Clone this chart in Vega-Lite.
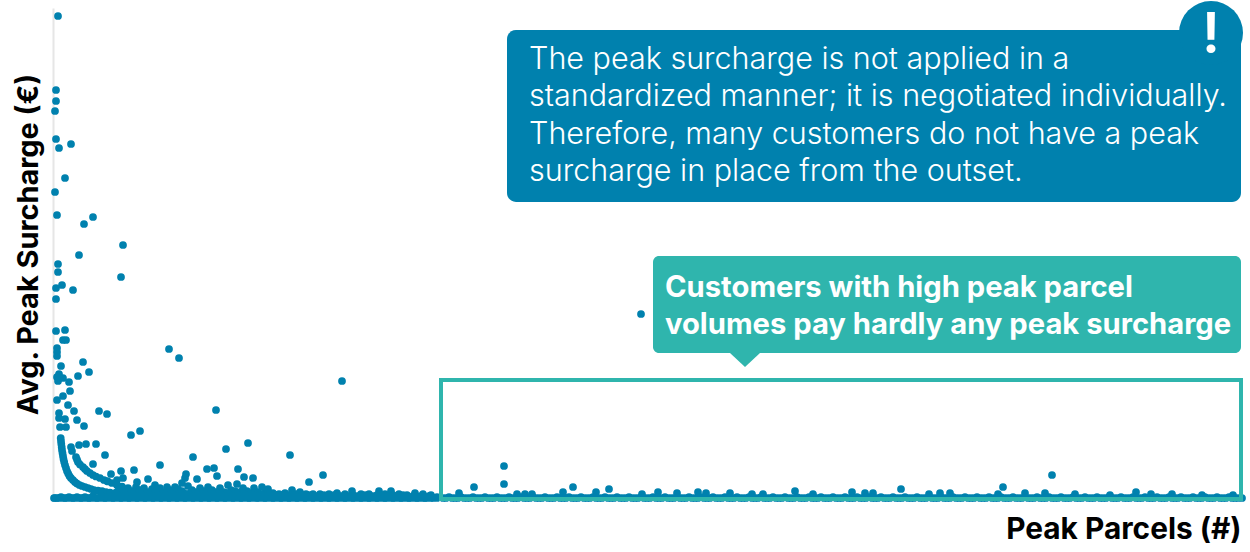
{
  "$schema": "https://vega.github.io/schema/vega-lite/v6.json",
  "width": 1190,
  "height": 490,
  "autosize": "none",
  "padding": {"left": 53, "top": 8, "right": 7, "bottom": 54},
  "background": "white",
  "config": {"view": {"stroke": null}, "font": "Inter"},
  "encoding": {
    "x": {"field": "parcels", "type": "quantitative", "scale": {"domain": [0, 1190], "nice": false, "zero": false}, "axis": {"title": "Peak Parcels (#)", "domain": false, "ticks": false, "labels": false, "grid": false, "titleFont": "Inter", "titleFontSize": 29.8, "titleFontWeight": 700, "titleColor": "#000000", "titleAlign": "right", "titleBaseline": "middle", "titleX": 1188, "titleY": 31}},
    "y": {"field": "surcharge", "type": "quantitative", "scale": {"domain": [0, 49], "nice": false, "zero": false}, "axis": {"title": "Avg. Peak Surcharge (€)", "domain": true, "domainColor": "#e6e6e6", "domainWidth": 2, "ticks": false, "labels": false, "grid": false, "titleFont": "Inter", "titleFontSize": 28.9, "titleFontWeight": 700, "titleColor": "#000000", "titleAngle": -90, "titleAlign": "center", "titleBaseline": "middle", "titleX": -25, "titleY": 236}}
  },
  "layer": [
    {
      "data": {"values": [
        {"parcels":5,"surcharge":48.2},{"parcels":3,"surcharge":40.8},{"parcels":3,"surcharge":39.7},{"parcels":2,"surcharge":38.7},{"parcels":3,"surcharge":35.9},{"parcels":6,"surcharge":35.0},{"parcels":18,"surcharge":35.4},{"parcels":12,"surcharge":32.0},{"parcels":2,"surcharge":30.6},{"parcels":4,"surcharge":28.3},{"parcels":40,"surcharge":28.1},{"parcels":31,"surcharge":27.4},{"parcels":70,"surcharge":25.3},{"parcels":26,"surcharge":24.3},{"parcels":5,"surcharge":23.4},{"parcels":5,"surcharge":22.6},{"parcels":68,"surcharge":22.1},{"parcels":3,"surcharge":21.0},{"parcels":9,"surcharge":21.3},{"parcels":20,"surcharge":20.8},{"parcels":3,"surcharge":19.9},{"parcels":3,"surcharge":16.7},{"parcels":12,"surcharge":16.8},{"parcels":10,"surcharge":15.8},{"parcels":13,"surcharge":15.8},{"parcels":4,"surcharge":15.0},{"parcels":4,"surcharge":14.6},{"parcels":4,"surcharge":14.2},{"parcels":116,"surcharge":14.9},{"parcels":126,"surcharge":14.0},{"parcels":30,"surcharge":13.6},{"parcels":8,"surcharge":13.2},{"parcels":36,"surcharge":12.6},{"parcels":25,"surcharge":12.2},{"parcels":6,"surcharge":12.4},{"parcels":4,"surcharge":12.1},{"parcels":5,"surcharge":11.7},{"parcels":10,"surcharge":12.0},{"parcels":16,"surcharge":11.6},{"parcels":17,"surcharge":10.7},{"parcels":10,"surcharge":10.2},{"parcels":4,"surcharge":9.8},{"parcels":15,"surcharge":9.3},{"parcels":21,"surcharge":8.7},{"parcels":163,"surcharge":8.8},{"parcels":46,"surcharge":8.7},{"parcels":54,"surcharge":8.4},{"parcels":6,"surcharge":8.5},{"parcels":6,"surcharge":8.0},{"parcels":12,"surcharge":7.9},{"parcels":24,"surcharge":7.8},{"parcels":7,"surcharge":7.1},{"parcels":13,"surcharge":7.1},{"parcels":31,"surcharge":7.2},{"parcels":78,"surcharge":6.3},{"parcels":87,"surcharge":6.7},{"parcels":18,"surcharge":5.1},{"parcels":19,"surcharge":4.7},{"parcels":26,"surcharge":5.3},{"parcels":33,"surcharge":5.4},{"parcels":43,"surcharge":5.4},{"parcels":52,"surcharge":4.3},{"parcels":40,"surcharge":3.4},{"parcels":140,"surcharge":4.1},{"parcels":173,"surcharge":4.9},{"parcels":107,"surcharge":3.3},{"parcels":81,"surcharge":2.8},{"parcels":154,"surcharge":2.9},{"parcels":161,"surcharge":3.0},{"parcels":58,"surcharge":2.4},{"parcels":68,"surcharge":2.7},{"parcels":133,"surcharge":2.4},{"parcels":164,"surcharge":2.2},{"parcels":144,"surcharge":1.9},{"parcels":95,"surcharge":1.9},{"parcels":175,"surcharge":1.3},{"parcels":70,"surcharge":2.0},{"parcels":84,"surcharge":1.6},{"parcels":132,"surcharge":2.0},{"parcels":54,"surcharge":1.7},{"parcels":129,"surcharge":1.5},{"parcels":102,"surcharge":1.3},{"parcels":155,"surcharge":1.1},{"parcels":122,"surcharge":1.1},{"parcels":114,"surcharge":1.1},{"parcels":64,"surcharge":1.8},{"parcels":289,"surcharge":11.7},{"parcels":195,"surcharge":5.5},{"parcels":237,"surcharge":4.3},{"parcels":185,"surcharge":2.9},{"parcels":191,"surcharge":2.1},{"parcels":200,"surcharge":2.0},{"parcels":256,"surcharge":1.6},{"parcels":270,"surcharge":2.3},{"parcels":184,"surcharge":1.4},{"parcels":190,"surcharge":1.0},{"parcels":201,"surcharge":1.0},{"parcels":209,"surcharge":1.1},{"parcels":215,"surcharge":0.9},{"parcels":239,"surcharge":0.8},{"parcels":247,"surcharge":0.6},{"parcels":284,"surcharge":0.5},{"parcels":299,"surcharge":0.7},{"parcels":326,"surcharge":0.7},{"parcels":338,"surcharge":0.7},{"parcels":362,"surcharge":0.5},{"parcels":406,"surcharge":0.5},{"parcels":421,"surcharge":1.1},{"parcels":451,"surcharge":1.4},{"parcels":451,"surcharge":3.2},{"parcels":464,"surcharge":0.4},{"parcels":472,"surcharge":0.4},{"parcels":479,"surcharge":0.4},{"parcels":588,"surcharge":18.4},{"parcels":520,"surcharge":1.1},{"parcels":510,"surcharge":0.6},{"parcels":543,"surcharge":0.6},{"parcels":556,"surcharge":0.9},{"parcels":605,"surcharge":0.6},{"parcels":589,"surcharge":0.4},{"parcels":624,"surcharge":0.5},{"parcels":645,"surcharge":0.6},{"parcels":653,"surcharge":0.5},{"parcels":677,"surcharge":0.5},{"parcels":699,"surcharge":0.4},{"parcels":710,"surcharge":0.4},{"parcels":742,"surcharge":0.7},{"parcels":760,"surcharge":0.4},{"parcels":799,"surcharge":0.6},{"parcels":812,"surcharge":0.5},{"parcels":820,"surcharge":0.5},{"parcels":848,"surcharge":0.9},{"parcels":876,"surcharge":0.4},{"parcels":887,"surcharge":0.5},{"parcels":897,"surcharge":0.5},{"parcels":950,"surcharge":1.1},{"parcels":999,"surcharge":2.3},{"parcels":945,"surcharge":0.4},{"parcels":972,"surcharge":0.5},{"parcels":992,"surcharge":0.5},{"parcels":1022,"surcharge":0.4},{"parcels":1057,"surcharge":0.3},{"parcels":1083,"surcharge":0.6},{"parcels":1098,"surcharge":0.4},{"parcels":1119,"surcharge":0.4},{"parcels":1149,"surcharge":0.3},{"parcels":1180,"surcharge":0.3},
        {"parcels":7.7,"surcharge":6.0},{"parcels":8,"surcharge":5.7},{"parcels":8.3,"surcharge":5.4},{"parcels":8.7,"surcharge":5.1},{"parcels":9,"surcharge":4.8},{"parcels":9.5,"surcharge":4.5},{"parcels":10,"surcharge":4.2},{"parcels":10.5,"surcharge":3.9},{"parcels":11.2,"surcharge":3.6},{"parcels":12,"surcharge":3.3},{"parcels":13,"surcharge":3.0},{"parcels":14,"surcharge":2.7},{"parcels":15.2,"surcharge":2.45},{"parcels":16.5,"surcharge":2.2},{"parcels":18,"surcharge":2.0},{"parcels":20,"surcharge":1.8},{"parcels":22,"surcharge":1.6},{"parcels":24,"surcharge":1.45},{"parcels":26.5,"surcharge":1.3},{"parcels":29,"surcharge":1.2},{"parcels":32,"surcharge":1.1},{"parcels":35,"surcharge":1.0},{"parcels":38,"surcharge":0.9},{"parcels":41,"surcharge":0.8},{"parcels":45,"surcharge":0.75},{"parcels":49,"surcharge":0.7},{"parcels":53,"surcharge":0.6},{"parcels":57,"surcharge":0.55},{"parcels":62,"surcharge":0.5},
        {"parcels":23,"surcharge":4.1},{"parcels":24,"surcharge":3.85},{"parcels":25,"surcharge":3.6},{"parcels":27,"surcharge":3.35},{"parcels":30,"surcharge":3.1},{"parcels":32,"surcharge":2.9},{"parcels":34,"surcharge":2.7},{"parcels":37,"surcharge":2.5},{"parcels":40,"surcharge":2.3},{"parcels":43,"surcharge":2.15},{"parcels":47,"surcharge":2.0},{"parcels":51,"surcharge":1.8},{"parcels":55,"surcharge":1.65},{"parcels":59,"surcharge":1.5},{"parcels":64,"surcharge":1.3},{"parcels":69,"surcharge":1.15},
        {"parcels":66,"surcharge":0.9},{"parcels":71,"surcharge":0.8},{"parcels":75,"surcharge":1.0},{"parcels":79,"surcharge":0.7},{"parcels":83,"surcharge":1.1},{"parcels":87,"surcharge":0.8},{"parcels":91,"surcharge":1.0},{"parcels":95,"surcharge":0.6},{"parcels":99,"surcharge":0.9},{"parcels":103,"surcharge":0.7},{"parcels":107,"surcharge":1.0},{"parcels":111,"surcharge":0.6},{"parcels":117,"surcharge":0.8},{"parcels":121,"surcharge":0.6},{"parcels":125,"surcharge":0.9},{"parcels":129,"surcharge":0.7},{"parcels":135,"surcharge":1.2},{"parcels":139,"surcharge":0.8},{"parcels":143,"surcharge":0.6},{"parcels":147,"surcharge":1.0},{"parcels":151,"surcharge":0.7},{"parcels":159,"surcharge":0.8},{"parcels":163,"surcharge":0.6},{"parcels":167,"surcharge":1.0},{"parcels":171,"surcharge":0.6},{"parcels":178,"surcharge":0.8},{"parcels":182,"surcharge":0.7},{"parcels":187,"surcharge":0.6},{"parcels":194,"surcharge":0.7},{"parcels":198,"surcharge":0.5},{"parcels":205,"surcharge":0.6},{"parcels":212,"surcharge":0.5},{"parcels":220,"surcharge":0.5},{"parcels":226,"surcharge":0.4},{"parcels":232,"surcharge":0.5},{"parcels":243,"surcharge":0.4},{"parcels":253,"surcharge":0.4},{"parcels":260,"surcharge":0.4},{"parcels":267,"surcharge":0.4},{"parcels":276,"surcharge":0.4},{"parcels":292,"surcharge":0.4},{"parcels":308,"surcharge":0.4},{"parcels":316,"surcharge":0.4},{"parcels":332,"surcharge":0.4},{"parcels":346,"surcharge":0.4},{"parcels":354,"surcharge":0.3},{"parcels":370,"surcharge":0.4},{"parcels":378,"surcharge":0.3},
        {"parcels":64,"surcharge":0.6},{"parcels":68,"surcharge":0.5},{"parcels":73,"surcharge":0.6},{"parcels":77,"surcharge":0.5},{"parcels":81,"surcharge":0.6},{"parcels":85,"surcharge":0.5},{"parcels":89,"surcharge":0.6},{"parcels":93,"surcharge":0.5},{"parcels":97,"surcharge":0.5},{"parcels":101,"surcharge":0.5},{"parcels":105,"surcharge":0.6},{"parcels":109,"surcharge":0.5},{"parcels":113,"surcharge":0.5},{"parcels":119,"surcharge":0.5},{"parcels":123,"surcharge":0.5},{"parcels":127,"surcharge":0.5},{"parcels":131,"surcharge":0.5},{"parcels":137,"surcharge":0.5},{"parcels":141,"surcharge":0.5},{"parcels":145,"surcharge":0.5},{"parcels":149,"surcharge":0.5},{"parcels":153,"surcharge":0.5},{"parcels":157,"surcharge":0.5},{"parcels":161,"surcharge":0.5},{"parcels":165,"surcharge":0.5},{"parcels":169,"surcharge":0.5},{"parcels":174,"surcharge":0.5},{"parcels":180,"surcharge":0.5},{"parcels":184,"surcharge":0.5},{"parcels":190,"surcharge":0.4},{"parcels":196,"surcharge":0.4},{"parcels":201,"surcharge":0.4},{"parcels":208,"surcharge":0.4},{"parcels":216,"surcharge":0.4},{"parcels":223,"surcharge":0.3},{"parcels":229,"surcharge":0.3},{"parcels":236,"surcharge":0.3},{"parcels":248,"surcharge":0.3},{"parcels":256,"surcharge":0.3},{"parcels":271,"surcharge":0.3},{"parcels":281,"surcharge":0.3},{"parcels":300,"surcharge":0.3},{"parcels":312,"surcharge":0.3},{"parcels":324,"surcharge":0.3},{"parcels":340,"surcharge":0.3},{"parcels":350,"surcharge":0.3},{"parcels":362,"surcharge":0.3},
        {"parcels":1,"surcharge":0},{"parcels":4,"surcharge":0},{"parcels":8,"surcharge":0.1},{"parcels":12,"surcharge":0},{"parcels":16,"surcharge":0.1},{"parcels":20,"surcharge":0},{"parcels":24,"surcharge":0.1},{"parcels":28,"surcharge":0},{"parcels":32,"surcharge":0.1},{"parcels":36,"surcharge":0},{"parcels":40,"surcharge":0.2},{"parcels":44,"surcharge":0},{"parcels":48,"surcharge":0.2},{"parcels":52,"surcharge":0},{"parcels":56,"surcharge":0.2},{"parcels":60,"surcharge":0},{"parcels":64,"surcharge":0.3},{"parcels":68,"surcharge":0},{"parcels":72,"surcharge":0.3},{"parcels":76,"surcharge":0},{"parcels":80,"surcharge":0.3},{"parcels":84,"surcharge":0},{"parcels":88,"surcharge":0.3},{"parcels":92,"surcharge":0},{"parcels":96,"surcharge":0.3},{"parcels":100,"surcharge":0},{"parcels":104,"surcharge":0.3},{"parcels":108,"surcharge":0},{"parcels":112,"surcharge":0.3},{"parcels":116,"surcharge":0},{"parcels":120,"surcharge":0.3},{"parcels":124,"surcharge":0},{"parcels":128,"surcharge":0.3},{"parcels":132,"surcharge":0},{"parcels":136,"surcharge":0.3},{"parcels":140,"surcharge":0},{"parcels":144,"surcharge":0.3},{"parcels":148,"surcharge":0},{"parcels":152,"surcharge":0.3},{"parcels":156,"surcharge":0},{"parcels":160,"surcharge":0.3},{"parcels":164,"surcharge":0},{"parcels":168,"surcharge":0.3},{"parcels":172,"surcharge":0},{"parcels":176,"surcharge":0.3},{"parcels":180,"surcharge":0},{"parcels":184,"surcharge":0.3},{"parcels":188,"surcharge":0},{"parcels":192,"surcharge":0.3},{"parcels":196,"surcharge":0},{"parcels":200,"surcharge":0.3},{"parcels":204,"surcharge":0},{"parcels":208,"surcharge":0.3},{"parcels":212,"surcharge":0},{"parcels":216,"surcharge":0.3},{"parcels":220,"surcharge":0},{"parcels":224,"surcharge":0.3},{"parcels":228,"surcharge":0},{"parcels":232,"surcharge":0.2},{"parcels":236,"surcharge":0},{"parcels":240,"surcharge":0.2},{"parcels":244,"surcharge":0},{"parcels":248,"surcharge":0.2},{"parcels":252,"surcharge":0},{"parcels":256,"surcharge":0.2},{"parcels":260,"surcharge":0},{"parcels":264,"surcharge":0.2},{"parcels":268,"surcharge":0},{"parcels":272,"surcharge":0.2},{"parcels":276,"surcharge":0},{"parcels":280,"surcharge":0.2},{"parcels":284,"surcharge":0},{"parcels":288,"surcharge":0.2},{"parcels":292,"surcharge":0},{"parcels":296,"surcharge":0.2},{"parcels":300,"surcharge":0},{"parcels":304,"surcharge":0.2},{"parcels":308,"surcharge":0},{"parcels":312,"surcharge":0.2},{"parcels":316,"surcharge":0},{"parcels":320,"surcharge":0.2},{"parcels":324,"surcharge":0},{"parcels":328,"surcharge":0.2},{"parcels":332,"surcharge":0},{"parcels":336,"surcharge":0.2},{"parcels":340,"surcharge":0},{"parcels":344,"surcharge":0.2},{"parcels":348,"surcharge":0},{"parcels":352,"surcharge":0.2},{"parcels":356,"surcharge":0},{"parcels":360,"surcharge":0.2},{"parcels":364,"surcharge":0},{"parcels":368,"surcharge":0.2},{"parcels":372,"surcharge":0},{"parcels":376,"surcharge":0.2},{"parcels":380,"surcharge":0},{"parcels":384,"surcharge":0.1},{"parcels":390,"surcharge":0},{"parcels":396,"surcharge":0.1},{"parcels":402,"surcharge":0},{"parcels":408,"surcharge":0.1},{"parcels":414,"surcharge":0},{"parcels":420,"surcharge":0.1},{"parcels":426,"surcharge":0},{"parcels":432,"surcharge":0.1},{"parcels":438,"surcharge":0},{"parcels":444,"surcharge":0.1},{"parcels":450,"surcharge":0},{"parcels":456,"surcharge":0.1},{"parcels":462,"surcharge":0},{"parcels":468,"surcharge":0.1},{"parcels":474,"surcharge":0},{"parcels":480,"surcharge":0.1},{"parcels":486,"surcharge":0},{"parcels":492,"surcharge":0.1},{"parcels":498,"surcharge":0},{"parcels":504,"surcharge":0.1},{"parcels":510,"surcharge":0},{"parcels":516,"surcharge":0.1},{"parcels":522,"surcharge":0},{"parcels":528,"surcharge":0.1},{"parcels":534,"surcharge":0},{"parcels":540,"surcharge":0.1},{"parcels":546,"surcharge":0},{"parcels":552,"surcharge":0.1},{"parcels":558,"surcharge":0},{"parcels":564,"surcharge":0.1},{"parcels":570,"surcharge":0},{"parcels":576,"surcharge":0.1},{"parcels":582,"surcharge":0},{"parcels":588,"surcharge":0.1},{"parcels":594,"surcharge":0},{"parcels":600,"surcharge":0.1},{"parcels":606,"surcharge":0},{"parcels":612,"surcharge":0.1},{"parcels":618,"surcharge":0},{"parcels":624,"surcharge":0.1},{"parcels":630,"surcharge":0},{"parcels":636,"surcharge":0.1},{"parcels":642,"surcharge":0},{"parcels":648,"surcharge":0.1},{"parcels":654,"surcharge":0},{"parcels":660,"surcharge":0.1},{"parcels":666,"surcharge":0},{"parcels":672,"surcharge":0.1},{"parcels":678,"surcharge":0},{"parcels":684,"surcharge":0.1},{"parcels":690,"surcharge":0},{"parcels":696,"surcharge":0.1},{"parcels":702,"surcharge":0},{"parcels":708,"surcharge":0.1},{"parcels":714,"surcharge":0},{"parcels":720,"surcharge":0.1},{"parcels":726,"surcharge":0},{"parcels":732,"surcharge":0.1},{"parcels":738,"surcharge":0},{"parcels":744,"surcharge":0.1},{"parcels":750,"surcharge":0},{"parcels":756,"surcharge":0.1},{"parcels":762,"surcharge":0},{"parcels":768,"surcharge":0.1},{"parcels":774,"surcharge":0},{"parcels":780,"surcharge":0.1},{"parcels":786,"surcharge":0},{"parcels":792,"surcharge":0.1},{"parcels":798,"surcharge":0},{"parcels":804,"surcharge":0.1},{"parcels":810,"surcharge":0},{"parcels":816,"surcharge":0.1},{"parcels":822,"surcharge":0},{"parcels":828,"surcharge":0.1},{"parcels":834,"surcharge":0},{"parcels":840,"surcharge":0.1},{"parcels":846,"surcharge":0},{"parcels":852,"surcharge":0.1},{"parcels":858,"surcharge":0},{"parcels":864,"surcharge":0.1},{"parcels":870,"surcharge":0},{"parcels":876,"surcharge":0.1},{"parcels":882,"surcharge":0},{"parcels":888,"surcharge":0.1},{"parcels":894,"surcharge":0},{"parcels":900,"surcharge":0.1},{"parcels":906,"surcharge":0},{"parcels":912,"surcharge":0.1},{"parcels":918,"surcharge":0},{"parcels":924,"surcharge":0.1},{"parcels":930,"surcharge":0},{"parcels":936,"surcharge":0.1},{"parcels":942,"surcharge":0},{"parcels":948,"surcharge":0.1},{"parcels":954,"surcharge":0},{"parcels":960,"surcharge":0.1},{"parcels":966,"surcharge":0},{"parcels":972,"surcharge":0.1},{"parcels":978,"surcharge":0},{"parcels":984,"surcharge":0.1},{"parcels":990,"surcharge":0},{"parcels":996,"surcharge":0.1},{"parcels":1002,"surcharge":0},{"parcels":1008,"surcharge":0.1},{"parcels":1014,"surcharge":0},{"parcels":1020,"surcharge":0.1},{"parcels":1026,"surcharge":0},{"parcels":1032,"surcharge":0.1},{"parcels":1038,"surcharge":0},{"parcels":1044,"surcharge":0.1},{"parcels":1050,"surcharge":0},{"parcels":1056,"surcharge":0.1},{"parcels":1062,"surcharge":0},{"parcels":1068,"surcharge":0.1},{"parcels":1074,"surcharge":0},{"parcels":1080,"surcharge":0.1},{"parcels":1086,"surcharge":0},{"parcels":1092,"surcharge":0.1},{"parcels":1098,"surcharge":0},{"parcels":1104,"surcharge":0.1},{"parcels":1110,"surcharge":0},{"parcels":1116,"surcharge":0.1},{"parcels":1122,"surcharge":0},{"parcels":1128,"surcharge":0.1},{"parcels":1134,"surcharge":0},{"parcels":1140,"surcharge":0.1},{"parcels":1146,"surcharge":0},{"parcels":1152,"surcharge":0.1},{"parcels":1158,"surcharge":0},{"parcels":1164,"surcharge":0.1},{"parcels":1170,"surcharge":0},{"parcels":1176,"surcharge":0.1},{"parcels":1182,"surcharge":0},{"parcels":1189,"surcharge":0},
        {"parcels":2,"surcharge":0},{"parcels":6,"surcharge":0},{"parcels":10,"surcharge":0},{"parcels":14,"surcharge":0},{"parcels":18,"surcharge":0},{"parcels":22,"surcharge":0},{"parcels":26,"surcharge":0},{"parcels":30,"surcharge":0},{"parcels":34,"surcharge":0},{"parcels":38,"surcharge":0},{"parcels":42,"surcharge":0},{"parcels":46,"surcharge":0},{"parcels":50,"surcharge":0},{"parcels":54,"surcharge":0},{"parcels":58,"surcharge":0},{"parcels":62,"surcharge":0},{"parcels":66,"surcharge":0},{"parcels":70,"surcharge":0},{"parcels":74,"surcharge":0},{"parcels":78,"surcharge":0},{"parcels":82,"surcharge":0},{"parcels":86,"surcharge":0},{"parcels":90,"surcharge":0},{"parcels":94,"surcharge":0},{"parcels":98,"surcharge":0},{"parcels":102,"surcharge":0},{"parcels":106,"surcharge":0},{"parcels":110,"surcharge":0},{"parcels":114,"surcharge":0},{"parcels":118,"surcharge":0},{"parcels":122,"surcharge":0},{"parcels":126,"surcharge":0},{"parcels":130,"surcharge":0},{"parcels":134,"surcharge":0},{"parcels":138,"surcharge":0},{"parcels":142,"surcharge":0},{"parcels":146,"surcharge":0},{"parcels":150,"surcharge":0},{"parcels":154,"surcharge":0},{"parcels":158,"surcharge":0},{"parcels":162,"surcharge":0},{"parcels":166,"surcharge":0},{"parcels":170,"surcharge":0},{"parcels":174,"surcharge":0},{"parcels":178,"surcharge":0},{"parcels":182,"surcharge":0},{"parcels":186,"surcharge":0},{"parcels":190,"surcharge":0},{"parcels":194,"surcharge":0},{"parcels":198,"surcharge":0},{"parcels":202,"surcharge":0},{"parcels":206,"surcharge":0},{"parcels":210,"surcharge":0},{"parcels":214,"surcharge":0},{"parcels":218,"surcharge":0},{"parcels":222,"surcharge":0},{"parcels":226,"surcharge":0},{"parcels":230,"surcharge":0},{"parcels":234,"surcharge":0},{"parcels":238,"surcharge":0},{"parcels":242,"surcharge":0},{"parcels":246,"surcharge":0},{"parcels":250,"surcharge":0},{"parcels":254,"surcharge":0},{"parcels":258,"surcharge":0},{"parcels":262,"surcharge":0},{"parcels":266,"surcharge":0},{"parcels":270,"surcharge":0},{"parcels":274,"surcharge":0},{"parcels":278,"surcharge":0},{"parcels":282,"surcharge":0},{"parcels":286,"surcharge":0},{"parcels":290,"surcharge":0},{"parcels":294,"surcharge":0},{"parcels":298,"surcharge":0},{"parcels":302,"surcharge":0},{"parcels":306,"surcharge":0},{"parcels":310,"surcharge":0},{"parcels":314,"surcharge":0},{"parcels":318,"surcharge":0},{"parcels":322,"surcharge":0},{"parcels":326,"surcharge":0},{"parcels":330,"surcharge":0},{"parcels":334,"surcharge":0},{"parcels":338,"surcharge":0},{"parcels":342,"surcharge":0},{"parcels":346,"surcharge":0},{"parcels":350,"surcharge":0},{"parcels":354,"surcharge":0},{"parcels":358,"surcharge":0},{"parcels":362,"surcharge":0},{"parcels":366,"surcharge":0},{"parcels":370,"surcharge":0},{"parcels":374,"surcharge":0},{"parcels":378,"surcharge":0},{"parcels":384,"surcharge":0},{"parcels":393,"surcharge":0},{"parcels":399,"surcharge":0},{"parcels":405,"surcharge":0},{"parcels":411,"surcharge":0},{"parcels":417,"surcharge":0},{"parcels":423,"surcharge":0},{"parcels":429,"surcharge":0},{"parcels":435,"surcharge":0},{"parcels":441,"surcharge":0},{"parcels":447,"surcharge":0},{"parcels":453,"surcharge":0},{"parcels":459,"surcharge":0},{"parcels":465,"surcharge":0},{"parcels":471,"surcharge":0},{"parcels":477,"surcharge":0},{"parcels":483,"surcharge":0},{"parcels":489,"surcharge":0},{"parcels":495,"surcharge":0},{"parcels":501,"surcharge":0},{"parcels":507,"surcharge":0},{"parcels":513,"surcharge":0},{"parcels":519,"surcharge":0},{"parcels":525,"surcharge":0},{"parcels":531,"surcharge":0},{"parcels":537,"surcharge":0},{"parcels":543,"surcharge":0},{"parcels":549,"surcharge":0},{"parcels":555,"surcharge":0},{"parcels":561,"surcharge":0},{"parcels":567,"surcharge":0},{"parcels":573,"surcharge":0},{"parcels":579,"surcharge":0},{"parcels":585,"surcharge":0},{"parcels":591,"surcharge":0},{"parcels":597,"surcharge":0},{"parcels":603,"surcharge":0},{"parcels":609,"surcharge":0},{"parcels":615,"surcharge":0},{"parcels":621,"surcharge":0},{"parcels":627,"surcharge":0},{"parcels":633,"surcharge":0},{"parcels":639,"surcharge":0},{"parcels":645,"surcharge":0},{"parcels":651,"surcharge":0},{"parcels":657,"surcharge":0},{"parcels":663,"surcharge":0},{"parcels":669,"surcharge":0},{"parcels":675,"surcharge":0},{"parcels":681,"surcharge":0},{"parcels":687,"surcharge":0},{"parcels":693,"surcharge":0},{"parcels":699,"surcharge":0},{"parcels":705,"surcharge":0},{"parcels":711,"surcharge":0},{"parcels":717,"surcharge":0},{"parcels":723,"surcharge":0},{"parcels":729,"surcharge":0},{"parcels":735,"surcharge":0},{"parcels":741,"surcharge":0},{"parcels":747,"surcharge":0},{"parcels":753,"surcharge":0},{"parcels":759,"surcharge":0},{"parcels":765,"surcharge":0},{"parcels":771,"surcharge":0},{"parcels":777,"surcharge":0},{"parcels":783,"surcharge":0},{"parcels":789,"surcharge":0},{"parcels":795,"surcharge":0},{"parcels":801,"surcharge":0},{"parcels":807,"surcharge":0},{"parcels":813,"surcharge":0},{"parcels":819,"surcharge":0},{"parcels":825,"surcharge":0},{"parcels":831,"surcharge":0},{"parcels":837,"surcharge":0},{"parcels":843,"surcharge":0},{"parcels":849,"surcharge":0},{"parcels":855,"surcharge":0},{"parcels":861,"surcharge":0},{"parcels":867,"surcharge":0},{"parcels":873,"surcharge":0},{"parcels":879,"surcharge":0},{"parcels":885,"surcharge":0},{"parcels":891,"surcharge":0},{"parcels":897,"surcharge":0},{"parcels":903,"surcharge":0},{"parcels":909,"surcharge":0},{"parcels":915,"surcharge":0},{"parcels":921,"surcharge":0},{"parcels":927,"surcharge":0},{"parcels":933,"surcharge":0},{"parcels":939,"surcharge":0},{"parcels":945,"surcharge":0},{"parcels":951,"surcharge":0},{"parcels":957,"surcharge":0},{"parcels":963,"surcharge":0},{"parcels":969,"surcharge":0},{"parcels":975,"surcharge":0},{"parcels":981,"surcharge":0},{"parcels":987,"surcharge":0},{"parcels":993,"surcharge":0},{"parcels":999,"surcharge":0},{"parcels":1005,"surcharge":0},{"parcels":1011,"surcharge":0},{"parcels":1017,"surcharge":0},{"parcels":1023,"surcharge":0},{"parcels":1029,"surcharge":0},{"parcels":1035,"surcharge":0},{"parcels":1041,"surcharge":0},{"parcels":1047,"surcharge":0},{"parcels":1053,"surcharge":0},{"parcels":1059,"surcharge":0},{"parcels":1065,"surcharge":0},{"parcels":1071,"surcharge":0},{"parcels":1077,"surcharge":0},{"parcels":1083,"surcharge":0},{"parcels":1089,"surcharge":0},{"parcels":1095,"surcharge":0},{"parcels":1101,"surcharge":0},{"parcels":1107,"surcharge":0},{"parcels":1113,"surcharge":0},{"parcels":1119,"surcharge":0},{"parcels":1125,"surcharge":0},{"parcels":1131,"surcharge":0},{"parcels":1137,"surcharge":0},{"parcels":1143,"surcharge":0},{"parcels":1149,"surcharge":0},{"parcels":1155,"surcharge":0},{"parcels":1161,"surcharge":0},{"parcels":1167,"surcharge":0},{"parcels":1173,"surcharge":0},{"parcels":1179,"surcharge":0},{"parcels":1185,"surcharge":0}
      ]},
      "mark": {"type": "point", "shape": "circle", "filled": true, "opacity": 1, "size": 60, "color": "#0081ae", "clip": false}
    },
    {
      "data": {"values": [{"parcels": 388, "parcels2": 1188, "surcharge": 11.8, "surcharge2": -0.1}]},
      "mark": {"type": "rect", "fill": "transparent", "stroke": "#2fb5ad", "strokeWidth": 4},
      "encoding": {"x2": {"field": "parcels2"}, "y2": {"field": "surcharge2"}}
    },
    {
      "data": {"values": [{"parcels": 454, "parcels2": 1188, "surcharge": 46.8, "surcharge2": 29.6}]},
      "mark": {"type": "rect", "fill": "#0081ae", "cornerRadius": 9},
      "encoding": {"x2": {"field": "parcels2"}, "y2": {"field": "surcharge2"}}
    },
    {
      "data": {"values": [{"parcels": 1158, "surcharge": 46.5}]},
      "mark": {"type": "point", "shape": "circle", "filled": true, "opacity": 1, "size": 4096, "color": "#0081ae"}
    },
    {
      "data": {"values": [{"parcels": 1158, "surcharge": 46.2, "label": "!"}]},
      "mark": {"type": "text", "font": "Inter", "fontWeight": 600, "fontSize": 56, "color": "#ffffff", "align": "center", "baseline": "middle"},
      "encoding": {"text": {"field": "label"}}
    },
    {
      "data": {"values": [
        {"parcels": 476, "surcharge": 43.8, "label": "The peak surcharge is not applied in a"},
        {"parcels": 476, "surcharge": 40.1, "label": "standardized manner; it is negotiated individually."},
        {"parcels": 476, "surcharge": 36.3, "label": "Therefore, many customers do not have a peak"},
        {"parcels": 476, "surcharge": 32.6, "label": "surcharge in place from the outset."}
      ]},
      "mark": {"type": "text", "font": "Inter", "fontWeight": 300, "fontSize": 30.5, "color": "#ffffff", "align": "left", "baseline": "middle"},
      "encoding": {"text": {"field": "label"}}
    },
    {
      "data": {"values": [{"parcels": 600, "parcels2": 1188, "surcharge": 24.2, "surcharge2": 14.5}]},
      "mark": {"type": "rect", "fill": "#2fb5ad", "cornerRadius": 6},
      "encoding": {"x2": {"field": "parcels2"}, "y2": {"field": "surcharge2"}}
    },
    {
      "data": {"values": [{"parcels": 692, "surcharge": 13.8}]},
      "mark": {"type": "point", "shape": "M-1,-0.47L1,-0.47L0,0.47Z", "filled": true, "opacity": 1, "size": 900, "color": "#2fb5ad"}
    },
    {
      "data": {"values": [
        {"parcels": 612, "surcharge": 21.0, "label": "Customers with high peak parcel"},
        {"parcels": 612, "surcharge": 17.3, "label": "volumes pay hardly any peak surcharge"}
      ]},
      "mark": {"type": "text", "font": "Inter", "fontWeight": 700, "fontSize": 29.2, "color": "#ffffff", "align": "left", "baseline": "middle"},
      "encoding": {"text": {"field": "label"}}
    }
  ]
}
